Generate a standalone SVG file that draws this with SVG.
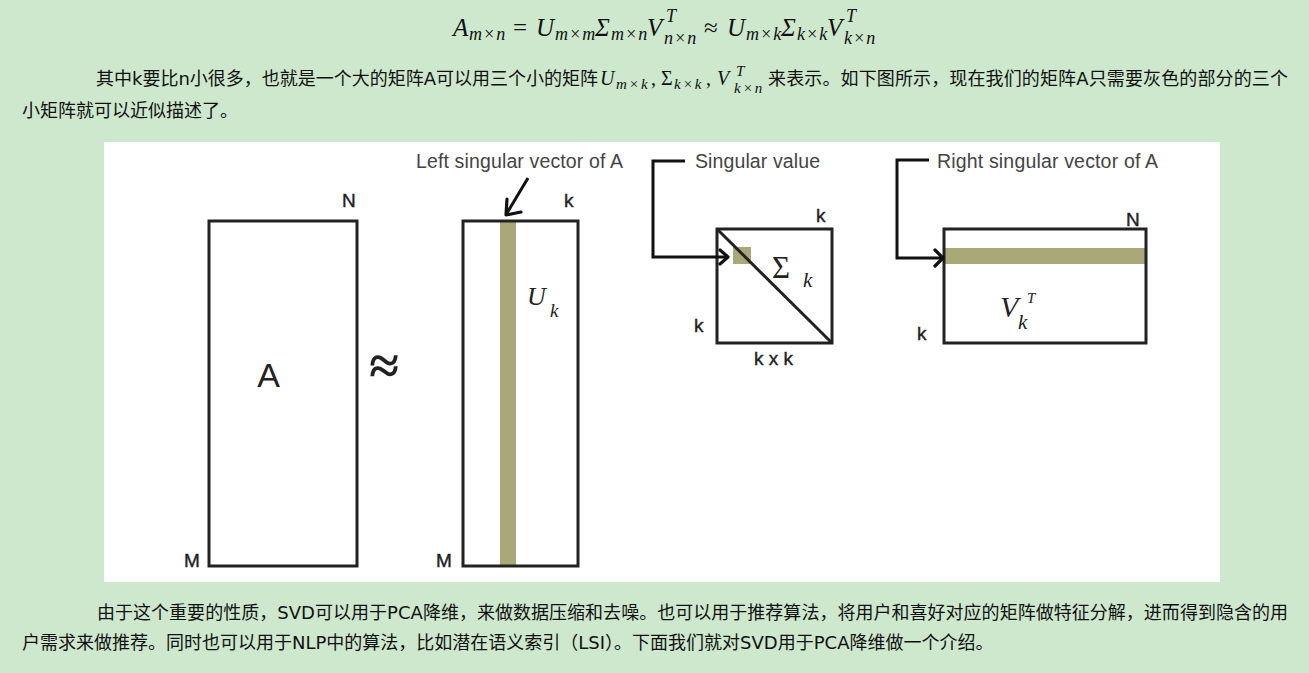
<svg xmlns="http://www.w3.org/2000/svg" width="1309" height="673" viewBox="0 0 1309 673">
<style>
.bg{fill:#cde8cd}
.panel{fill:#ffffff}
.cn{font-family:"DejaVu Sans","Noto Sans CJK SC",sans-serif;font-size:18px;fill:#111}
.mi{font-family:"Liberation Serif",serif;font-style:italic;fill:#111}
.up{font-style:normal}
.fs{font-size:18px;letter-spacing:1px}
.ps{font-size:15px;letter-spacing:2px}
.mat{fill:none;stroke:#222;stroke-width:3}
.bar{fill:#a8a878}
.lbl{font-family:"Liberation Sans",Arial,sans-serif;font-size:19px;fill:#222;stroke:#222;stroke-width:0.4}
.cap{font-family:"Liberation Sans",Arial,sans-serif;font-size:19.5px;fill:#444}
.dm{font-family:"Liberation Serif",serif;font-style:italic;fill:#222}
.con{fill:none;stroke:#111;stroke-width:3;stroke-linejoin:miter}
.head{fill:none;stroke:#111;stroke-width:3.2;stroke-linecap:round;stroke-linejoin:round}
</style>
<rect class="bg" x="0" y="0" width="1309" height="673"/>

<g id="formula">
<text class="mi" style="font-size:25px" y="36"><tspan x="453" y="36">A</tspan><tspan class="fs" x="469" y="40">m×n</tspan><tspan class="up" x="513" y="36">=</tspan><tspan x="536" y="36">U</tspan><tspan class="fs" x="555" y="40">m×m</tspan><tspan x="595" y="36">Σ</tspan><tspan class="fs" x="611" y="40">m×n</tspan><tspan x="647" y="36">V</tspan><tspan class="fs" x="666" y="22">T</tspan><tspan class="fs" x="664" y="44">n×n</tspan><tspan class="up" x="704" y="36">≈</tspan><tspan x="727" y="36">U</tspan><tspan class="fs" x="746" y="40">m×k</tspan><tspan x="781" y="36">Σ</tspan><tspan class="fs" x="797" y="40">k×k</tspan><tspan x="827" y="36">V</tspan><tspan class="fs" x="846" y="22">T</tspan><tspan class="fs" x="844" y="44">k×n</tspan></text>
</g>

<g id="para1">
<text class="cn" x="96" y="85" textLength="502" lengthAdjust="spacing">其中k要比n小很多，也就是一个大的矩阵A可以用三个小的矩阵</text>
<text class="mi" style="font-size:20px" y="85"><tspan x="600" y="85">U</tspan><tspan class="ps" x="616" y="89">m×k</tspan><tspan class="up" x="651" y="85">,</tspan><tspan class="up" x="661" y="85">Σ</tspan><tspan class="ps" x="674" y="89">k×k</tspan><tspan class="up" x="706" y="85">,</tspan><tspan x="717" y="85">V</tspan><tspan class="ps" x="736" y="76">T</tspan><tspan class="ps" x="734" y="93">k×n</tspan></text>
<text class="cn" x="768" y="85" textLength="520" lengthAdjust="spacing">来表示。如下图所示，现在我们的矩阵A只需要灰色的部分的三个</text>
<text class="cn" x="22" y="117">小矩阵就可以近似描述了。</text>
</g>

<rect class="panel" x="104" y="142" width="1116" height="440"/>

<g id="matrix-A">
<rect class="mat" x="209" y="221" width="148" height="345"/>
<text class="lbl" x="342" y="207">N</text>
<text class="lbl" x="184" y="567">M</text>
<text x="268.5" y="387" text-anchor="middle" style="font-family:'Liberation Sans',Arial,sans-serif;font-size:34px;fill:#222">A</text>
</g>

<g id="approx">
<text x="384" y="384" text-anchor="middle" style="font-family:'Liberation Serif',serif;font-size:54px;font-weight:bold;fill:#222">≈</text>
</g>

<g id="matrix-U">
<rect class="bar" x="500" y="221" width="16" height="345"/>
<rect class="mat" x="463" y="221" width="115" height="345"/>
<text class="lbl" x="564" y="207">k</text>
<text class="lbl" x="436" y="567">M</text>
<text class="dm" style="font-size:26px"><tspan x="527" y="305">U</tspan><tspan x="550" y="317" style="font-size:19px">k</tspan></text>
</g>

<g id="matrix-Sigma">
<rect class="bar" x="733" y="247" width="18" height="17"/>
<rect class="mat" x="717" y="229" width="115" height="114"/>
<line x1="717" y1="229" x2="832" y2="343" stroke="#222" stroke-width="3"/>
<text class="lbl" x="816" y="222">k</text>
<text class="lbl" x="694" y="332">k</text>
<text class="lbl" x="754" y="365">k x k</text>
<text class="dm" style="font-size:31px"><tspan x="772" y="278" style="font-style:normal">Σ</tspan><tspan x="803" y="287" style="font-size:21px">k</tspan></text>
</g>

<g id="matrix-V">
<rect class="bar" x="944" y="248" width="202" height="16"/>
<rect class="mat" x="944" y="229" width="202" height="114"/>
<text class="lbl" x="1126" y="226">N</text>
<text class="lbl" x="917" y="340">k</text>
<text class="dm" style="font-size:30px"><tspan x="1000" y="317">V</tspan><tspan x="1018" y="329" style="font-size:21px">k</tspan><tspan x="1027" y="303" style="font-size:15px">T</tspan></text>
</g>

<g id="labels">
<text class="cap" x="416" y="168" textLength="207" lengthAdjust="spacing">Left singular vector of A</text>
<text class="cap" x="695" y="168" textLength="125" lengthAdjust="spacing">Singular value</text>
<text class="cap" x="937" y="168" textLength="221" lengthAdjust="spacing">Right singular vector of A</text>
</g>

<g id="connectors">
<line class="con" x1="528" y1="178" x2="507" y2="213"/>
<polyline class="head" points="507,199 506,215 521,212"/>
<polyline class="con" points="685,161 653,161 653,257 726,257"/>
<polyline class="head" points="720,250 728,257 720,264"/>
<polyline class="con" points="929,160 897,160 897,258 942,258"/>
<polyline class="head" points="935,250 943,258 935,266"/>
</g>

<g id="para2">
<text class="cn" x="97" y="619" textLength="1191" lengthAdjust="spacing">由于这个重要的性质，SVD可以用于PCA降维，来做数据压缩和去噪。也可以用于推荐算法，将用户和喜好对应的矩阵做特征分解，进而得到隐含的用</text>
<text class="cn" x="22" y="649">户需求来做推荐。同时也可以用于NLP中的算法，比如潜在语义索引（LSI）。下面我们就对SVD用于PCA降维做一个介绍。</text>
</g>
</svg>
